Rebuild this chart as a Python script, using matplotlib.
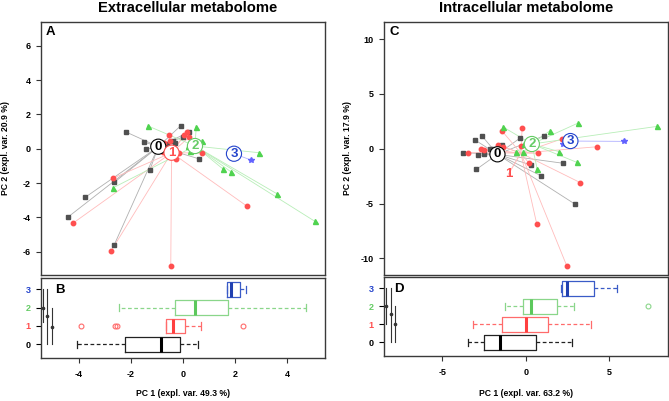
import matplotlib
matplotlib.use('Agg')
import matplotlib.pyplot as plt

plt.rcParams['font.family'] = ['Liberation Sans', 'DejaVu Sans']
plt.rcParams['font.weight'] = 'bold'

groups = ['0', '1', '2', '3']
pt_colors = ['#505050', '#ff4f4f', '#4fd34f', '#6262ff']
ln_colors = ['#b0b0b0', '#ffbcbc', '#b8eeb8', '#b0b0ff']
lab_colors = ['#000000', '#ff4f4f', '#66cc66', '#2444cc']
box_colors = ['#222222', '#ff6b6b', '#8ad68a', '#3a5bc7']
med_colors = ['#000000', '#ff4040', '#5cc85c', '#2040b0']
markers = ['s', 'o', '^', '*']

# ---------------- Extracellular metabolome (scores) ----------------
ext_pc1 = [
    [-2.18, -1.49, -1.44, -0.09, 0.23, -0.01, -0.40, -0.63, -0.31, 0.60, -1.27, -2.64, -3.76, -4.42, -2.65],
    [-0.55, 0.14, 0.04, 0.24, -0.74, -0.50, -0.76, -0.15, -0.28, 0.74, -2.68, -4.24, -2.77, -0.47, 2.47],
    [-1.33, 0.51, 0.74, 0.20, 0.27, 1.53, 1.86, 2.92, -2.68, 3.63, 5.08],
    [1.76, 2.62],
]
ext_pc2 = [
    [0.97, 0.39, -0.04, 1.34, 0.97, 0.68, 0.47, 0.26, 0.33, -0.58, -1.22, -1.96, -2.83, -3.98, -5.62],
    [0.80, 0.97, 0.78, 0.68, 0.35, 0.47, -0.17, -0.25, -0.58, -0.25, -1.71, -4.35, -5.97, -6.82, -3.36],
    [1.32, 1.27, 0.45, 0.17, -0.13, -1.17, -1.36, -0.23, -2.27, -2.64, -4.24],
    [-0.23, -0.66],
]
ext_cen_pc1 = [-0.95, -0.44, 0.46, 1.96]
ext_cen_pc2 = [0.12, -0.23, 0.16, -0.29]
ext_lab_pc1 = [-0.95, -0.44, 0.46, 1.96]
ext_lab_pc2 = [0.12, -0.23, 0.16, -0.29]
ext_lab_circle = [True, True, True, True]

# boxplot summaries of PC1 per group
ext_whislo = [-4.09, -0.67, -2.46, 1.70]
ext_q1 = [-2.23, -0.67, -0.29, 1.70]
ext_med = [-0.85, -0.38, 0.47, 1.83]
ext_q3 = [-0.10, 0.09, 1.73, 2.18]
ext_whishi = [0.56, 0.68, 4.72, 2.41]
ext_fliers = [[], [-3.93, -2.62, -2.52, 2.32], [], []]

# squeezed PC2 boxplots at the left border
ext_mini_x = [-5.40, -5.23, -5.05]
ext_mini_lo = [1.2, 0.0, 0.0]
ext_mini_hi = [3.0, 3.0, 2.0]
ext_mini_dot = [2.0, 1.56, 0.95]

# ---------------- Intracellular metabolome (scores) ----------------
int_pc1 = [
    [-3.04, -2.64, -3.77, -2.88, -2.50, -2.14, -1.94, -1.44, -2.96, -0.32, 1.11, 2.25, 0.32, 0.90, 2.97],
    [-3.46, -2.68, -2.50, -1.68, -1.44, -0.22, -1.34, -0.28, 2.15, 4.27, 0.72, 0.20, 3.27, 0.66, 2.45],
    [-1.36, 1.44, 3.13, 7.88, -0.60, -0.14, -0.12, 2.01, 3.05, 0.68],
    [2.21, 5.90],
]
int_pc2 = [
    [0.79, 1.19, -0.36, -0.60, -0.46, 0.0, 0.0, 0.37, -1.88, 1.0, 1.19, -1.33, -1.49, -2.46, -5.08],
    [-0.36, -0.03, -0.12, 0.37, 1.64, 1.92, 0.16, 0.27, 0.89, 0.18, -0.42, -1.33, -3.10, -6.90, -10.67],
    [1.98, 1.64, 2.34, 2.04, -0.27, -0.27, 0.43, -0.27, -1.24, -1.85],
    [0.40, 0.67],
]
int_cen_pc1 = [-1.70, -0.30, 0.36, 2.67]
int_cen_pc2 = [-0.51, -0.40, 0.43, 0.70]
int_lab_pc1 = [-1.70, -1.04, 0.36, 2.67]
int_lab_pc2 = [-0.51, -2.31, 0.43, 0.70]
int_lab_circle = [True, False, True, True]

int_whislo = [-3.47, -3.17, -1.24, 2.10]
int_q1 = [-2.51, -1.44, -0.18, 2.19]
int_med = [-1.52, 0.0, 0.28, 2.45]
int_q3 = [0.58, 1.35, 1.89, 4.07]
int_whishi = [2.75, 3.93, 2.91, 5.49]
int_fliers = [[], [], [7.34], []]

int_mini_x = [-8.37, -8.11, -7.83]
int_mini_lo = [1.03, 0.0, 0.0]
int_mini_hi = [3.0, 3.0, 2.0]
int_mini_dot = [2.05, 1.56, 1.0]

W, H = 669, 401
fig = plt.figure(figsize=(W / 100, H / 100), dpi=100)


def fx(px):
    return px / W


def fy(py):
    return 1 - py / H


def ax_rect(l, t, r, b):
    return [fx(l), fy(b), fx(r) - fx(l), fy(t) - fy(b)]


axA = fig.add_axes(ax_rect(41, 22, 325, 275))
axB = fig.add_axes(ax_rect(41, 278, 325, 358))
axC = fig.add_axes(ax_rect(384, 22, 668, 275))
axD = fig.add_axes(ax_rect(384, 277.3, 668, 356))

TICK_FS = 6.5
LAB_FS = 6.2


def style_spines(ax):
    for s in ax.spines.values():
        s.set_color('#3a3a3a')
        s.set_linewidth(1.0)


def scatter_panel(ax, pc1, pc2, cx, cy, lx, ly, circ, xlim, ylim, yticks, letter):
    for g in range(4):
        for x, y in zip(pc1[g], pc2[g]):
            ax.plot([cx[g], x], [cy[g], y], color=ln_colors[g], lw=0.6, zorder=1)
    for g in range(4):
        if lx[g] != cx[g] or ly[g] != cy[g]:
            ax.plot([lx[g], cx[g]], [ly[g], cy[g]], color=ln_colors[g], lw=0.8, zorder=1)
    for g in range(4):
        ms = {'s': 3.0, 'o': 3.2, '^': 3.6, '*': 3.8}[markers[g]]
        ax.plot(pc1[g], pc2[g], linestyle='none', marker=markers[g], ms=ms,
                color=pt_colors[g], mec=pt_colors[g], zorder=3)
    for g in range(4):
        bbox = None
        if circ[g]:
            bbox = dict(boxstyle='circle,pad=0.12', fc='white', ec=lab_colors[g], lw=0.8)
        ax.text(lx[g], ly[g], groups[g], color=lab_colors[g], fontsize=9.5, fontweight='bold',
                ha='center', va='center', bbox=bbox, zorder=5)
    ax.set_xlim(*xlim)
    ax.set_ylim(*ylim)
    ax.set_xticks([])
    ax.set_yticks(yticks)
    ax.set_yticklabels([str(t) for t in yticks], fontsize=TICK_FS, fontweight='bold')
    ax.tick_params(axis='y', direction='out', length=3.5, width=0.8, pad=4, color='#333333')
    ax.text(0.018, 0.985, letter, transform=ax.transAxes, fontsize=9.5, fontweight='bold',
            ha='left', va='top')
    style_spines(ax)


def box_panel(ax, whislo, q1, med, q3, whishi, fliers, mini_x, mini_lo, mini_hi, mini_dot,
              xlim, xticks, letter, letter_x):
    for g in range(4):
        st = [dict(whislo=whislo[g], q1=q1[g], med=med[g], q3=q3[g], whishi=whishi[g],
                   fliers=fliers[g])]
        c = box_colors[g]
        kw = dict(positions=[g], widths=0.8, capwidths=0.4, showfliers=True,
                  boxprops=dict(color=c, lw=0.9),
                  whiskerprops=dict(color=c, lw=0.9, linestyle=(0, (3, 2))),
                  capprops=dict(color=c, lw=0.9),
                  medianprops=dict(color=med_colors[g], lw=2.2),
                  flierprops=dict(marker='o', ms=3.5, mfc='none', mec=c, mew=0.8))
        try:
            ax.bxp(st, orientation='horizontal', **kw)
        except TypeError:
            ax.bxp(st, vert=False, **kw)
    for x, lo, hi, d in zip(mini_x, mini_lo, mini_hi, mini_dot):
        ax.plot([x, x], [lo, hi], color='#333333', lw=0.8, zorder=2)
        ax.plot([x], [d], marker='o', ms=1.6, color='#333333', zorder=3)
    ax.set_xlim(*xlim)
    ax.set_ylim(-0.75, 3.62)
    ax.set_yticks([0, 1, 2, 3])
    ax.set_yticklabels(groups, fontsize=TICK_FS, fontweight='bold')
    for tl, tick, c in zip(ax.get_yticklabels(), ax.yaxis.get_major_ticks(), lab_colors):
        tl.set_color(c)
        tick.tick1line.set_color(c)
    ax.set_xticks(xticks)
    ax.set_xticklabels([str(t) for t in xticks], fontsize=TICK_FS, fontweight='bold')
    ax.tick_params(axis='both', direction='out', length=3.5, width=0.8, pad=4)
    ax.tick_params(axis='x', color='#333333', pad=5)
    ax.text(letter_x, 0.93, letter, transform=ax.transAxes, fontsize=9.5, fontweight='bold',
            ha='left', va='top')
    style_spines(ax)


scatter_panel(axA, ext_pc1, ext_pc2, ext_cen_pc1, ext_cen_pc2, ext_lab_pc1, ext_lab_pc2,
              ext_lab_circle, (-5.46, 5.46), (-7.36, 7.39), [-6, -4, -2, 0, 2, 4, 6], 'A')
scatter_panel(axC, int_pc1, int_pc2, int_cen_pc1, int_cen_pc2, int_lab_pc1, int_lab_pc2,
              int_lab_circle, (-8.5, 8.52), (-11.52, 11.56), [-10, -5, 0, 5, 10], 'C')
box_panel(axB, ext_whislo, ext_q1, ext_med, ext_q3, ext_whishi, ext_fliers,
          ext_mini_x, ext_mini_lo, ext_mini_hi, ext_mini_dot, (-5.46, 5.46), [-4, -2, 0, 2, 4],
          'B', 0.05)
box_panel(axD, int_whislo, int_q1, int_med, int_q3, int_whishi, int_fliers,
          int_mini_x, int_mini_lo, int_mini_hi, int_mini_dot, (-8.5, 8.52), [-5, 0, 5],
          'D', 0.035)

fig.text(fx(188), fy(12), 'Extracellular metabolome', fontsize=10.6, fontweight='bold',
         ha='center', va='baseline')
fig.text(fx(526), fy(12), 'Intracellular metabolome', fontsize=10.6, fontweight='bold',
         ha='center', va='baseline')
fig.text(fx(5.5), fy(148.5), 'PC 2 (expl. var. 20.9 %)', fontsize=LAB_FS, fontweight='bold',
         rotation=90, ha='center', va='center')
fig.text(fx(347.5), fy(148.5), 'PC 2 (expl. var. 17.9 %)', fontsize=LAB_FS, fontweight='bold',
         rotation=90, ha='center', va='center')
fig.text(fx(183), fy(394), 'PC 1 (expl. var. 49.3 %)', fontsize=LAB_FS, fontweight='bold',
         ha='center', va='center')
fig.text(fx(526), fy(394), 'PC 1 (expl. var. 63.2 %)', fontsize=LAB_FS, fontweight='bold',
         ha='center', va='center')

fig.savefig('out.png', dpi=100)
